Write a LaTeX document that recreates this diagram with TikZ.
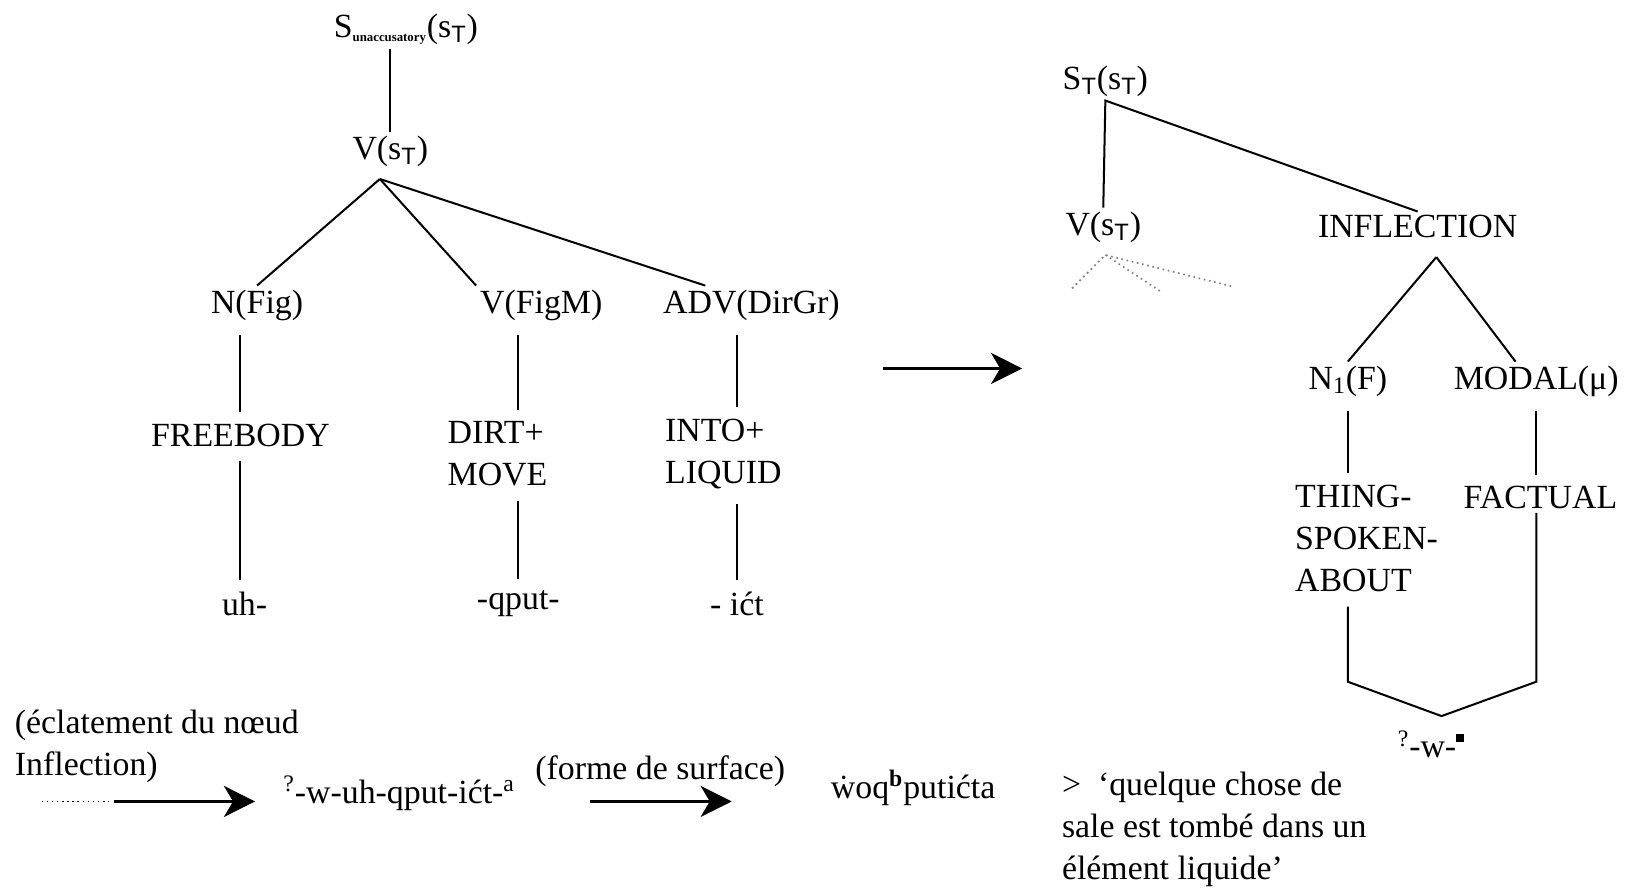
\documentclass[tikz,border=0pt]{standalone}
\usepackage{fontspec}
\setmainfont{Liberation Serif}
\setsansfont{Liberation Sans}
\usetikzlibrary{arrows.meta,positioning,calc}
\newcommand{\sT}{s\textsubscript{\sffamily T}}
\newcommand{\blk}{\raisebox{0.45em}{\rule{4.5pt}{4.5pt}}}

\begin{document}
\begin{tikzpicture}[
  x=0.02cm,y=-0.02cm,
  font=\fontsize{18.5}{23}\selectfont,
  lab/.style={inner sep=2pt,align=center},
  txt/.style={inner sep=0pt,align=left,anchor=west},
  branch/.style={line width=1.1pt},
  vline/.style={branch,shorten <=6pt,shorten >=4pt},
  ghost/.style={gray,dotted,line width=0.9pt},
  bigarr/.style={line width=1.6pt,-{Stealth[length=17pt,width=17pt,inset=5pt]}},
]
\useasboundingbox (0,0) rectangle (1568,855);

% Left tree
\node[lab] (sroot) at (390,28) {S\textsubscript{\fontsize{7}{7}\selectfont\bfseries unaccusatory}(\sT)};
\node[lab] (vst) at (375,145) {V(\sT)};
\coordinate (vapex) at (365,172);
\node[lab] (nfig) at (247,293) {N(Fig)};
\node[lab] (vfigm) at (520,293) {V(FigM)};
\node[lab] (adv) at (722,293) {ADV(DirGr)};
\node[lab] (fb) at (231,418) {FREEBODY};
\node[lab,align=left] (dirt) at (478,436) {DIRT+\\MOVE};
\node[lab,align=left] (into) at (695,436) {INTO+\\LIQUID};
\node[lab] (uh) at (235,580) {uh-};
\node[lab] (qput) at (498,580) {-qput-};
\node[lab] (ict) at (708,580) {- ićt};

\draw[branch] (vst.north |- sroot.south) -- (vst.north);
\draw[branch] (vapex) -- (nfig.north);
\draw[branch] (vapex) -- (vfigm.north west);
\draw[branch] (vapex) -- ($(adv.north west)!0.25!(adv.north east)$);
\draw[vline] (fb.north |- nfig.south) -- (fb.north);
\draw[vline] (fb.south) -- (uh.north -| fb.south);
\draw[vline] (qput.north |- vfigm.south) -- (qput.north |- dirt.north);
\draw[vline] (qput.north |- dirt.south) -- (qput.north);
\draw[vline] (ict.north |- adv.south) -- (ict.north |- into.north);
\draw[vline] (ict.north |- into.south) -- (ict.north);

% Arrow between the trees
\coordinate (mstart) at (848,354);
\coordinate (mend) at (982,354);
\draw[bigarr] (mstart) -- (mend);

% Right tree
\node[lab] (stop) at (1062,78) {S\textsubscript{\sffamily T}(\sT)};
\node[lab] (vst2) at (1060,218) {V(\sT)};
\node[lab] (infl) at (1362,218) {INFLECTION};
\coordinate (gtop) at (1062,245);
\coordinate (g1) at (1030,277);
\coordinate (g2) at (1115,280);
\coordinate (g3) at (1183,275);
\coordinate (iapex) at (1380,247);
\node[lab] (n1) at (1295,366) {N\textsubscript{1}(F)};
\node[lab] (modal) at (1476,366) {MODAL(μ)};
\node[lab,align=left] (thing) at (1313,517) {THING-\\SPOKEN-\\ABOUT};
\node[lab] (fact) at (1480,478) {FACTUAL};
\coordinate (vbar) at (1385,655);
\coordinate (merge) at (1385,688);
\node[lab] (wsuf) at (1375,715) {\textsuperscript{?}-w-\blk};

\draw[branch] (vst2.north) -- (stop.south) -- (infl.north);
\draw[ghost] (g1) -- (gtop) -- (g3);
\draw[ghost] (gtop) -- (g2);
\draw[branch] (iapex) -- (n1.north);
\draw[branch] (iapex) -- ($(modal.north west)!0.38!(modal.north east)$);
\draw[vline] (n1.south) -- (n1.south |- thing.north);
\draw[vline] (modal.south) -- (modal.south |- fact.north);
\draw[branch,shorten <=6pt] (n1.south |- thing.south) -- (n1.south |- vbar) -- (merge)
  -- (modal.south |- vbar) -- (modal.south |- fact.south);

% Bottom line
\node[txt] (eclat) at (14,717) {(éclatement du nœud\\Inflection)};
\coordinate (dstart) at (40,770);
\coordinate (dend) at (105,770);
\coordinate (a1) at (110,770);
\coordinate (a1e) at (245,770);
\node[txt] (form1) at (272,762) {\textsuperscript{?}-w-uh-qput-ićt-\textsuperscript{a}};
\node[txt] (surf) at (514,741) {(forme de surface)};
\coordinate (a2) at (567,770);
\coordinate (a2e) at (703,770);
\node[txt] (form2) at (798,757) {w^^^^0307oq\textsuperscript{\bfseries b}putićta};
\node[txt] (gloss) at (1020,797) {>\ \ ‘quelque chose de\\sale est tombé dans un\\élément liquide’};

\draw[dotted,line width=0.8pt] (dstart) -- (dend);
\draw[bigarr] (a1) -- (a1e);
\draw[bigarr] (a2) -- (a2e);

\end{tikzpicture}
\end{document}
